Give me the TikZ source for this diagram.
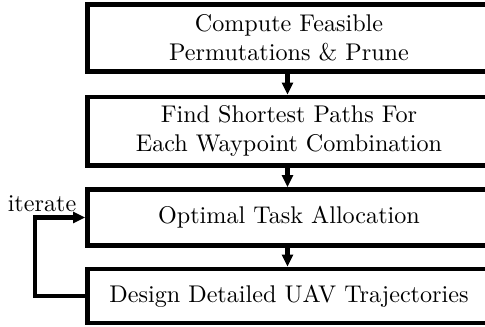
\documentclass[tikz,border=0pt]{standalone}
\usetikzlibrary{arrows.meta}
\begin{document}
\begin{tikzpicture}[x=0.41408pt, y=-0.41408pt,
  stepbox/.style={draw, line width=1.85pt, rectangle, align=center, minimum width=403*0.41408pt, inner sep=0pt},
  flow/.style={line width=1.85pt, -{Triangle[length=5pt,width=4.4pt]}}]
\useasboundingbox (0,0) rectangle (485,326);
\node[stepbox, minimum height=67*0.41408pt] (a) at (289,38) {Compute Feasible\\Permutations \& Prune};
\node[stepbox, minimum height=68.5*0.41408pt] (b) at (289,131.25) {Find Shortest Paths For\\Each Waypoint Combination};
\node[stepbox, minimum height=56*0.41408pt] (c) at (289,217.5) {Optimal Task Allocation};
\node[stepbox, minimum height=54*0.41408pt] (d) at (289,296) {Design Detailed UAV Trajectories};
\coordinate (ax) at (287.5,0);
\draw[flow] (a.south -| ax) -- (b.north -| ax);
\draw[flow] (b.south -| ax) -- (c.north -| ax);
\draw[flow] (c.south -| ax) -- (d.north -| ax);
\coordinate (lp) at (35,296);
\draw[flow] (d.west) -- (lp) |- (c.west);
\node (it) at (42,204) {iterate};
\end{tikzpicture}
\end{document}
